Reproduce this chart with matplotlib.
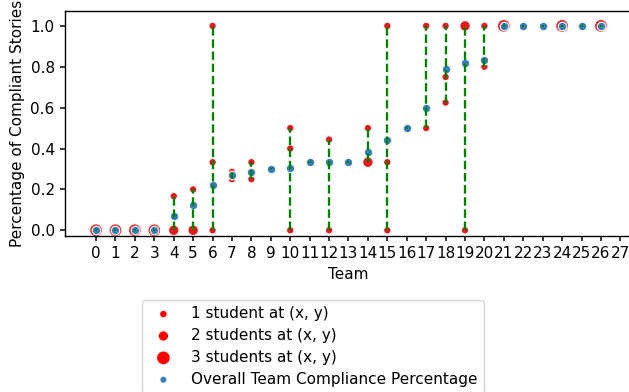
import matplotlib
matplotlib.use("Agg")
import matplotlib.pyplot as plt
from collections import Counter

teams = list(range(27))
student_values = [
    [0, 0, 0], [0, 0, 0], [0, 0, 0], [0, 0, 0],
    [0, 0, 0.167], [0, 0, 0.2], [1.0, 0.333, 0], [0.25, 0.286],
    [0.333, 0.25], [0.3], [0.5, 0.4, 0], [0.333],
    [0.444, 0], [0.333], [0.5, 0.333, 0.333], [1.0, 0.333, 0],
    [0.5], [1.0, 0.5], [1.0, 0.75, 0.625], [1.0, 1.0, 0],
    [1.0, 0.8], [1, 1, 1], [1], [1], [1, 1, 1], [1], [1, 1, 1],
]
team_overall = [0, 0, 0, 0, 0.07, 0.125, 0.22, 0.272, 0.284, 0.3, 0.305,
                0.333, 0.333, 0.333, 0.383, 0.443, 0.5, 0.6, 0.787, 0.818,
                0.831, 1, 1, 1, 1, 1, 1]
xticks = list(range(28))
legend_labels = ["1 student at (x, y)", "2 students at (x, y)",
                 "3 students at (x, y)", "Overall Team Compliance Percentage"]

RED = "#e41a1c"
BLUE = "#377eb8"
FS = 11

fig = plt.figure(figsize=(6.29, 3.92), dpi=100)
ax = fig.add_axes([65/629, 1-236/392, (632-65)/629, (236-11)/392])

# red student points
xs, ys, ss = [], [], []
for t, vals in zip(teams, student_values):
    c = Counter(vals)
    for v, n in c.items():
        xs.append(t); ys.append(v); ss.append(28*n)
ax.scatter(xs, ys, s=ss, c=RED, edgecolors="white", linewidths=0.7, zorder=2)

# blue overall
ax.scatter(teams, team_overall, s=38, c=BLUE, edgecolors="white", linewidths=0.8, zorder=3)

# green ranges
for t, vals in zip(teams, student_values):
    lo, hi = min(vals), max(vals)
    if hi > lo:
        ax.plot([t, t], [lo, hi], color="green", ls="--", lw=1.65, zorder=4)
    else:
        ax.plot([t], [lo], color="green", marker="s", markersize=1.6,
                markeredgewidth=0, zorder=4)

ax.set_xticks(xticks)
ax.set_xlim(-1.6, 27.6)
ax.set_ylim(-0.028, 1.073)
ax.set_yticks([0, 0.2, 0.4, 0.6, 0.8, 1.0])
ax.tick_params(labelsize=FS, width=1.1, length=3.9)
for sp in ax.spines.values():
    sp.set_linewidth(1.0)
ax.set_xlabel("Team", fontsize=FS)
ax.set_ylabel("Percentage of Compliant Stories", fontsize=FS)

handles = [
    ax.scatter([], [], s=22, c="red", edgecolors="none"),
    ax.scatter([], [], s=45, c="red", edgecolors="none"),
    ax.scatter([], [], s=84, c="red", edgecolors="none"),
    ax.scatter([], [], s=19, c=BLUE, edgecolors="none"),
]
fig.legend(handles, legend_labels, loc="upper left",
           bbox_to_anchor=(142/629, 1-300/392), borderaxespad=0,
           fontsize=FS, scatterpoints=1, labelspacing=0.45)

fig.savefig("out.png", dpi=100)
